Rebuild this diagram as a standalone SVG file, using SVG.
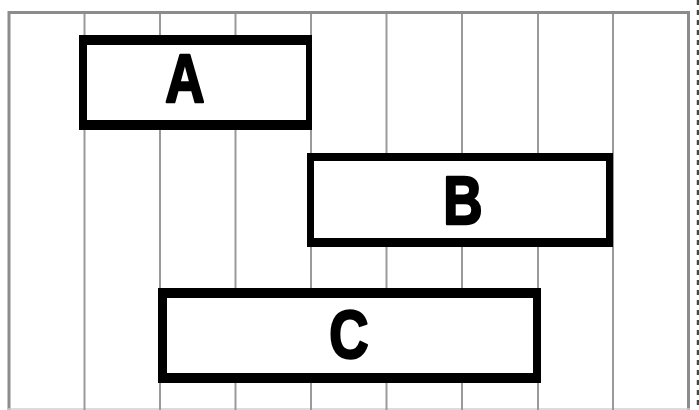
<svg xmlns="http://www.w3.org/2000/svg" width="699" height="410" viewBox="0 0 699 410">
  <style>
    .grid { stroke: #9a9a9a; stroke-width: 2; fill: none; }
    .frame { stroke: #8c8c8c; stroke-width: 3; fill: none; }
    .outer { fill: #000; }
    .inner { fill: #fff; }
    .lbl { font-family: "Liberation Sans", Arial, sans-serif; font-weight: bold; font-size: 68px; fill: #000; stroke: #000; stroke-width: 2.5; stroke-linejoin: round; text-anchor: middle; }
  </style>
  <rect width="699" height="410" fill="#fff"/>
  <g id="grid">
    <line class="frame" x1="8" y1="12.5" x2="690" y2="12.5"/>
    <line class="frame" x1="9" y1="11" x2="9" y2="410"/>
    <line class="frame" x1="688.5" y1="11" x2="688.5" y2="410"/>
    <line x1="8" y1="409" x2="690" y2="409" stroke="#cfcfcf" stroke-width="1.5"/>
    <line class="grid" x1="84.5" y1="14" x2="84.5" y2="410"/>
    <line class="grid" x1="160" y1="14" x2="160" y2="410"/>
    <line class="grid" x1="235.5" y1="14" x2="235.5" y2="410"/>
    <line class="grid" x1="311" y1="14" x2="311" y2="410"/>
    <line class="grid" x1="386.5" y1="14" x2="386.5" y2="410"/>
    <line class="grid" x1="462" y1="14" x2="462" y2="410"/>
    <line class="grid" x1="538" y1="14" x2="538" y2="410"/>
    <line class="grid" x1="613" y1="14" x2="613" y2="410"/>
    <line x1="698" y1="0" x2="698" y2="410" stroke="#444" stroke-width="2.5" stroke-dasharray="5 5"/>
  </g>
  <g id="A">
    <rect class="outer" x="79" y="35" width="233" height="95"/>
    <rect class="inner" x="87" y="45" width="219" height="75"/>
    <text class="lbl" transform="translate(185,102) scale(0.8,1)">A</text>
  </g>
  <g id="B">
    <rect class="outer" x="307" y="153" width="306" height="94"/>
    <rect class="inner" x="314" y="161" width="292" height="77"/>
    <text class="lbl" transform="translate(463,224) scale(0.8,1)">B</text>
  </g>
  <g id="C">
    <rect class="outer" x="158" y="288" width="383" height="95"/>
    <rect class="inner" x="167" y="298" width="366" height="75"/>
    <text class="lbl" transform="translate(349,358) scale(0.8,1)">C</text>
  </g>
</svg>
